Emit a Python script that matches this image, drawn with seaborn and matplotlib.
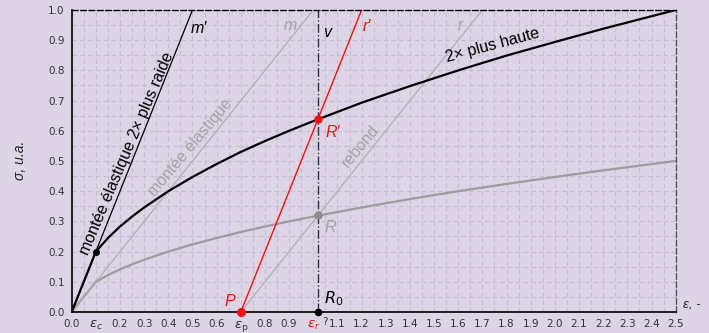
import numpy as np
import pandas as pd
import matplotlib
matplotlib.use("Agg")
import matplotlib.pyplot as plt
import matplotlib.transforms as mtransforms
import seaborn as sns

# strain points and stress
eps = [0.0, 0.1, 0.15, 0.2, 0.25, 0.3, 0.4, 0.5, 0.6, 0.7, 0.8, 0.9, 1.0,
       1.2, 1.4, 1.6, 1.8, 2.0, 2.2, 2.5]
sigma_haute = [0.0, 0.20, 0.245, 0.283, 0.316, 0.346, 0.40, 0.447, 0.49, 0.53,
               0.566, 0.60, 0.632, 0.693, 0.748, 0.80, 0.849, 0.894, 0.938, 1.0]
sigma_base = [0.0, 0.10, 0.122, 0.141, 0.158, 0.173, 0.20, 0.224, 0.245, 0.265,
              0.283, 0.30, 0.316, 0.346, 0.374, 0.40, 0.424, 0.447, 0.469, 0.5]

# straight lines (start, end)
m_prime_x, m_prime_y = [0.0, 0.5], [0.0, 1.0]
m_x, m_y = [0.0, 1.0], [0.0, 1.0]
r_x, r_y = [0.7, 1.7], [0.0, 1.0]
r_prime_x, r_prime_y = [0.7, 1.2], [0.0, 1.0]
v_x = 1.02

# particular points
pt_c = (0.1, 0.2)
pt_P = (0.7, 0.0)
pt_R = (1.02, 0.32)
pt_Rp = (1.02, 0.64)
pt_R0 = (1.02, 0.0)

x_ticks = np.round(np.arange(0, 2.51, 0.1), 2)
x_labels = ["%.1f" % t for t in x_ticks]
x_labels[1] = r"$\varepsilon_c$"
x_labels[7] = r"$\varepsilon_\mathrm{p}$"
x_labels[10] = r"$\varepsilon_r$"
y_ticks = np.round(np.arange(0, 1.01, 0.1), 2)

bg = "#ddd4e6"
red = "#f01010"
gray_txt = "#a3a3a3"

sns.set_theme(style="whitegrid", rc={"axes.facecolor": bg, "figure.facecolor": bg})
plt.rcParams["font.family"] = ["Liberation Sans", "DejaVu Sans"]
plt.rcParams["mathtext.fontset"] = "dejavusans"

fig = plt.figure(figsize=(7.09, 3.33), dpi=100)
ax = fig.add_axes([0.1011, 0.0631, 0.8519, 0.9069])

curves = pd.DataFrame({"eps": eps, "haute": sigma_haute, "base": sigma_base})
sns.lineplot(data=curves, x="eps", y="base", ax=ax, color="#9c9c9c", lw=1.6)
sns.lineplot(x=m_x, y=m_y, ax=ax, color="#ababab", lw=0.8)
sns.lineplot(x=r_x, y=r_y, ax=ax, color="#ababab", lw=0.8)
sns.lineplot(x=m_prime_x, y=m_prime_y, ax=ax, color="black", lw=0.9)
sns.lineplot(data=curves, x="eps", y="haute", ax=ax, color="black", lw=1.6)
sns.lineplot(x=r_prime_x, y=r_prime_y, ax=ax, color=red, lw=1.0)
ax.axvline(v_x, color="#333333", lw=1.0, ls="-.")

ax.plot(*pt_c, "o", color="black", ms=4, zorder=5)
ax.plot(*pt_R, "o", color="#8c8c8c", ms=5, zorder=5)
ax.plot(*pt_Rp, "o", color=red, ms=5, zorder=5)
ax.plot(*pt_P, "o", color=red, ms=5.5, zorder=6, clip_on=False)
ax.plot(*pt_R0, "o", color="black", ms=4.5, zorder=6, clip_on=False)

ax.set_xlim(0, 2.5)
ax.set_ylim(0, 1.0)
ax.set_xticks(x_ticks)
ax.set_xticklabels(x_labels, fontsize=7.5, color="#333333", family="DejaVu Sans")
for i in (1, 7, 10):
    ax.get_xticklabels()[i].set_fontsize(9.5)
ax.get_xticklabels()[10].set_color(red)
ax.set_yticks(y_ticks)
ax.set_yticklabels(["%.1f" % t for t in y_ticks], fontsize=7.5, color="#333333",
                   family="DejaVu Sans")
ax.set_xticks(np.arange(0, 2.51, 0.05), minor=True)
ax.set_yticks(np.arange(0, 1.01, 0.05), minor=True)
ax.tick_params(which="both", length=0, pad=5)
ax.grid(which="both", color="#c4bccf", ls=(0, (4, 3)), lw=0.8)
ax.set_xlabel("")
ax.set_ylabel("")

for side in ["left", "bottom"]:
    ax.spines[side].set_color("black")
    ax.spines[side].set_linewidth(1.2)
ax.spines["top"].set_color("black")
ax.spines["top"].set_linestyle((0, (4, 2)))
ax.spines["top"].set_linewidth(1.0)
ax.spines["right"].set_color("#555555")
ax.spines["right"].set_linestyle((0, (4, 2)))
ax.spines["right"].set_linewidth(1.0)

trans = mtransforms.blended_transform_factory(ax.transData, ax.transAxes)
ax.text(1.05, -0.017, "?", transform=trans, fontsize=7.5, color="#333333",
        ha="center", va="top", family="DejaVu Sans")

fs = 11.5
kw = dict(ha="center", va="center", rotation_mode="anchor")
ax.text(0.229, 0.525, "montée élastique 2× plus raide", rotation=67, fontsize=fs,
        color="black", **kw)
ax.text(0.490, 0.546, "montée élastique", rotation=50, fontsize=fs, color=gray_txt, **kw)
ax.text(1.197, 0.550, "rebond", rotation=50, fontsize=fs, color=gray_txt, **kw)
ax.text(1.741, 0.884, "2× plus haute", rotation=15, fontsize=fs, color="black", **kw)

ax.text(0.527, 0.94, "m′", fontsize=fs, style="italic", color="black", **kw)
ax.text(0.904, 0.947, "m", fontsize=fs, style="italic", color=gray_txt, **kw)
ax.text(1.057, 0.927, "v", fontsize=fs, style="italic", color="black", **kw)
ax.text(1.222, 0.944, "r′", fontsize=fs, style="italic", color=red, **kw)
ax.text(1.61, 0.947, "r", fontsize=fs, style="italic", color=gray_txt, **kw)
ax.text(1.08, 0.593, "R′", fontsize=fs, style="italic", color=red, **kw)
ax.text(1.07, 0.28, "R", fontsize=fs, style="italic", color=gray_txt, **kw)
ax.text(0.655, 0.036, "P", fontsize=fs, style="italic", color=red, **kw)
ax.text(1.085, 0.043, r"$R_0$", fontsize=fs, color="black", **kw)

fig.text(0.028, 0.52, "σ, u.a.", rotation=90, fontsize=10, style="italic",
         ha="center", va="center", color="#222222")
fig.text(0.976, 0.085, "ε, -", fontsize=9.5, style="italic", ha="center",
         va="center", color="#222222")

fig.savefig("out.png", dpi=100, facecolor=bg)
